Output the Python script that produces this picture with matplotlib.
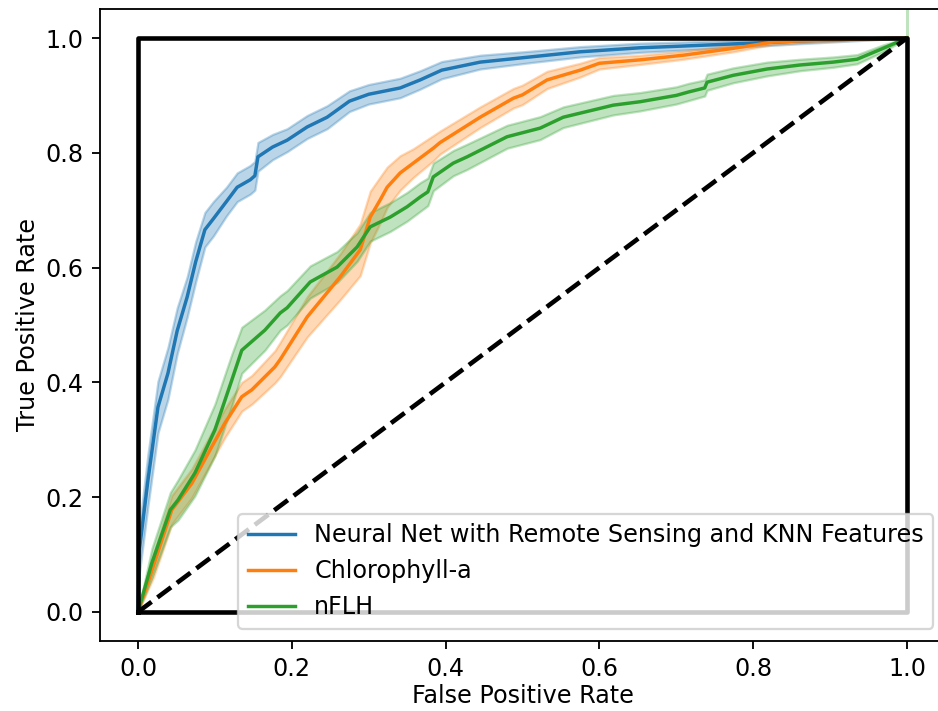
import matplotlib
matplotlib.use("Agg")
import matplotlib.pyplot as plt
import numpy as np

# Mean ROC curves (fpr grid, mean tpr, std of tpr)
nn_fpr = [0, 0.002, 0.013, 0.026, 0.039, 0.051, 0.064, 0.075, 0.087, 0.098, 0.115,
          0.129, 0.146, 0.152, 0.156, 0.175, 0.194, 0.22, 0.246, 0.275, 0.3, 0.315,
          0.341, 0.367, 0.395, 0.445, 0.51, 0.575, 0.653, 0.709, 0.796, 0.86, 0.93, 1.0]
nn_tpr = [0, 0.11, 0.23, 0.357, 0.416, 0.49, 0.549, 0.61, 0.666, 0.685, 0.715,
          0.74, 0.753, 0.76, 0.793, 0.81, 0.822, 0.845, 0.862, 0.89, 0.902, 0.906,
          0.913, 0.927, 0.944, 0.958, 0.967, 0.976, 0.983, 0.986, 0.991, 0.995, 0.998, 1.0]
nn_std = [0, 0.04, 0.045, 0.045, 0.045, 0.04, 0.035, 0.035, 0.03, 0.03, 0.025,
          0.025, 0.025, 0.025, 0.025, 0.022, 0.02, 0.02, 0.02, 0.018, 0.017, 0.017,
          0.017, 0.016, 0.015, 0.012, 0.01, 0.009, 0.008, 0.007, 0.006, 0.005, 0.003, 0.0]

chl_fpr = [0, 0.02, 0.044, 0.07, 0.096, 0.113, 0.135, 0.148, 0.178, 0.185, 0.22,
           0.263, 0.289, 0.302, 0.315, 0.324, 0.341, 0.358, 0.384, 0.393, 0.445,
           0.488, 0.5, 0.532, 0.575, 0.6, 0.653, 0.709, 0.774, 0.826, 0.86, 0.93, 1.0]
chl_tpr = [0, 0.08, 0.178, 0.224, 0.288, 0.329, 0.375, 0.387, 0.427, 0.44, 0.514,
           0.584, 0.631, 0.688, 0.718, 0.74, 0.765, 0.782, 0.808, 0.818, 0.862,
           0.895, 0.901, 0.927, 0.944, 0.956, 0.962, 0.970, 0.982, 0.993, 0.995, 0.998, 1.0]
chl_std = [0, 0.02, 0.025, 0.025, 0.025, 0.025, 0.025, 0.025, 0.028, 0.03, 0.035,
           0.04, 0.045, 0.045, 0.04, 0.035, 0.03, 0.025, 0.022, 0.02, 0.018,
           0.017, 0.017, 0.015, 0.012, 0.01, 0.008, 0.007, 0.006, 0.004, 0.003, 0.002, 0.0]

nflh_fpr = [0, 0.018, 0.042, 0.052, 0.074, 0.1, 0.122, 0.135, 0.165, 0.185, 0.194,
            0.224, 0.259, 0.285, 0.302, 0.328, 0.35, 0.367, 0.377, 0.384, 0.41,
            0.428, 0.48, 0.523, 0.553, 0.618, 0.653, 0.7, 0.716, 0.737, 0.74,
            0.774, 0.818, 0.861, 0.904, 0.935, 0.969, 1.0, 1.0]
nflh_tpr = [0, 0.085, 0.178, 0.195, 0.242, 0.317, 0.404, 0.456, 0.491, 0.521, 0.53,
            0.575, 0.601, 0.636, 0.671, 0.688, 0.706, 0.723, 0.732, 0.758, 0.782,
            0.793, 0.828, 0.843, 0.862, 0.883, 0.889, 0.9, 0.906, 0.913, 0.923,
            0.935, 0.946, 0.953, 0.958, 0.963, 0.982, 1.0, 1.0]
nflh_std = [0, 0.025, 0.03, 0.035, 0.04, 0.045, 0.045, 0.04, 0.035, 0.03, 0.03,
            0.028, 0.027, 0.025, 0.025, 0.025, 0.025, 0.025, 0.024, 0.024, 0.022,
            0.022, 0.02, 0.02, 0.018, 0.017, 0.016, 0.015, 0.015, 0.014, 0.014,
            0.013, 0.012, 0.01, 0.009, 0.008, 0.006, 0.0, 0.12]

CURVES = [
    ("Neural Net with Remote Sensing and KNN Features", nn_fpr, nn_tpr, nn_std, "tab:blue"),
    ("Chlorophyll-a", chl_fpr, chl_tpr, chl_std, "tab:orange"),
    ("nFLH", nflh_fpr, nflh_tpr, nflh_std, "tab:green"),
]

plt.rcParams["font.size"] = 10.4

fig = plt.figure(figsize=(938 / 165, 711 / 165), dpi=165)
ax = fig.add_axes([0.1061, 0.0989, 0.9018, 0.888])

for name, fpr, tpr, std, color in CURVES:
    fpr = np.array(fpr)
    tpr = np.array(tpr)
    std = np.array(std)
    ax.fill_between(fpr, tpr - std, tpr + std, color=color, alpha=0.3)
    ax.plot(fpr, tpr, color=color, lw=1.5, label=name)

# perfect classifier box and chance line
ax.plot([0, 0, 1, 1, 0], [0, 1, 1, 0, 0], color="black", lw=2)
ax.plot([0, 1], [0, 1], "k--", lw=2)

ax.set_xlim(-0.05, 1.05)
ax.set_ylim(-0.05, 1.05)
ax.set_xlabel("False Positive Rate", labelpad=1.5)
ax.set_ylabel("True Positive Rate", labelpad=2.5)
ax.legend(loc="lower right")

fig.savefig("out.png", dpi=165)
